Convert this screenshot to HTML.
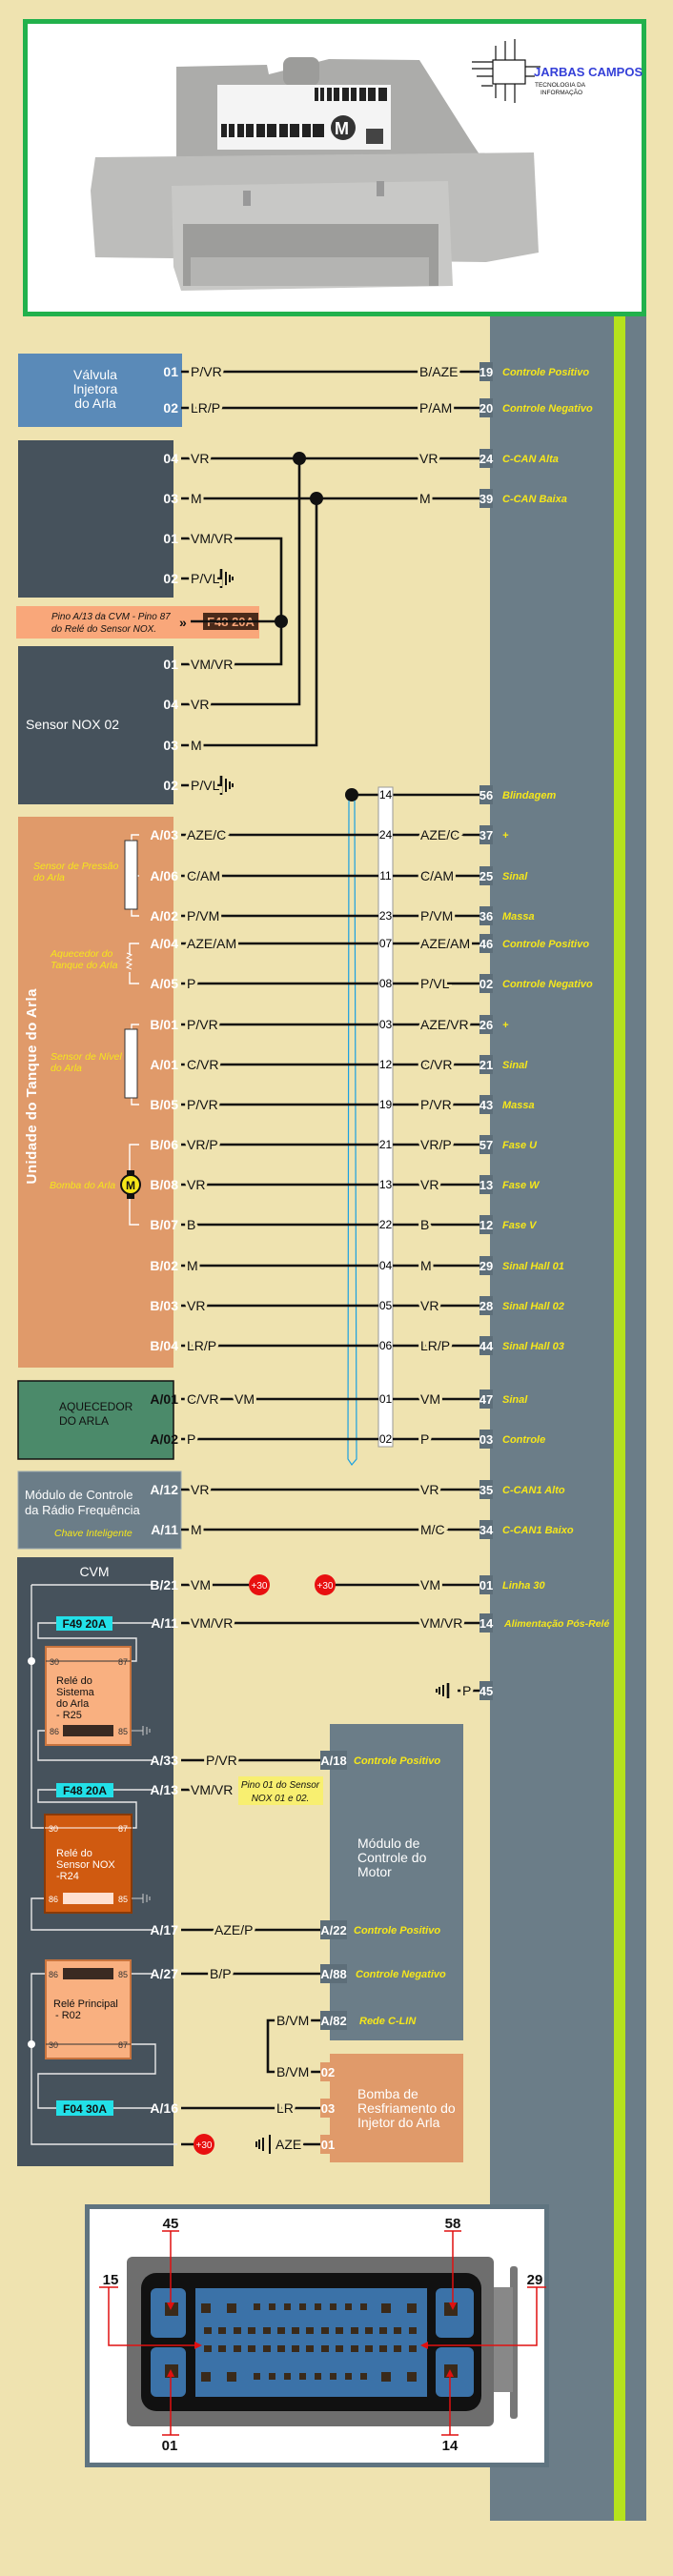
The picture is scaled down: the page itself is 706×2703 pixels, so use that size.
<!DOCTYPE html>
<html><head><meta charset="utf-8">
<style>
html,body{margin:0;padding:0;background:#efe3b0;}
svg{display:block;}
text{font-family:"Liberation Sans Narrow","Liberation Sans",sans-serif;}
.w{fill:#fff;font-size:14px;font-weight:bold;}
.pl{fill:#fff;font-size:14px;font-weight:bold;text-anchor:end;}
.k{fill:#111;font-size:14px;stroke:#efe3b0;stroke-width:6px;paint-order:stroke;}
.y{fill:#f6e71a;font-size:11px;font-style:italic;font-weight:bold;}
.yl{fill:#f6e71a;font-size:10.5px;font-style:italic;}
.n{fill:#fff;font-size:13px;font-weight:bold;text-anchor:middle;}
.c{fill:#000;font-size:12px;text-anchor:middle;}
.wire{stroke:#111;stroke-width:2.6;fill:none;}
.thin{stroke:#e8e8e8;stroke-width:1.4;fill:none;}
.rl{fill:#111;font-size:12px;}
</style></head><body>
<svg width="706" height="2703" viewBox="0 0 706 2703" xmlns="http://www.w3.org/2000/svg">
<rect width="706" height="2703" fill="#efe3b0"/>
<!-- right panel -->
<rect x="514" y="332" width="164" height="2313" fill="#6b7d88"/>
<rect x="644" y="332" width="12" height="2313" fill="#b6e21c"/>

<!-- TOP PHOTO FRAME -->
<rect x="26.5" y="22.5" width="649" height="307" fill="#fff" stroke="#22b14c" stroke-width="5"/>
<g>
<polygon points="185,70 280,68 282,78 345,62 440,63 495,150 505,165 185,165" fill="#acacaa"/>
<rect x="297" y="60" width="38" height="30" rx="8" fill="#9c9c9a"/>
<polygon points="100,165 560,160 565,265 510,275 100,270 95,200" fill="#bdbdbb"/>
<rect x="228" y="89" width="182" height="68" fill="#f4f4f4"/>
<g fill="#222">
<rect x="330" y="92" width="76" height="14"/>
<rect x="232" y="130" width="108" height="14"/>
</g>
<g fill="#f4f4f4"><rect x="334" y="92" width="2" height="14"/><rect x="340" y="92" width="3" height="14"/><rect x="348" y="92" width="2" height="14"/><rect x="356" y="92" width="3" height="14"/><rect x="366" y="92" width="2" height="14"/><rect x="374" y="92" width="3" height="14"/><rect x="384" y="92" width="2" height="14"/><rect x="394" y="92" width="3" height="14"/>
<rect x="238" y="130" width="2" height="14"/><rect x="246" y="130" width="3" height="14"/><rect x="256" y="130" width="2" height="14"/><rect x="266" y="130" width="3" height="14"/><rect x="278" y="130" width="2" height="14"/><rect x="290" y="130" width="3" height="14"/><rect x="302" y="130" width="2" height="14"/><rect x="314" y="130" width="3" height="14"/><rect x="326" y="130" width="2" height="14"/></g>
<circle cx="360" cy="134" r="13" fill="#333"/><text x="351" y="141" style="font-size:18px;font-weight:bold;fill:#fff">M</text>
<rect x="384" y="135" width="18" height="16" fill="#444"/>
<polygon points="180,195 470,190 475,300 190,305 182,280" fill="#c8c8c6"/>
<rect x="192" y="235" width="268" height="65" fill="#9d9d9b"/>
<rect x="200" y="270" width="250" height="30" fill="#b4b4b2"/>
<rect x="255" y="200" width="8" height="16" fill="#999"/><rect x="395" y="190" width="8" height="16" fill="#999"/>
</g>
<!-- logo -->
<g stroke="#111" stroke-width="1.2" fill="none">
<rect x="517" y="63" width="34" height="25"/>
<path d="M495 65h22M495 72h22M500 80h17M520 63v-15M530 63v-20M540 63v-22M551 70h16M551 80h10M520 88v15M530 88v18M540 88v20M505 90h12"/>
</g>
<text x="560" y="80" style="font-size:13px;fill:#3540d8;font-weight:bold">JARBAS CAMPOS</text>
<text x="561" y="91" style="font-size:6.5px;fill:#111">TECNOLOGIA DA</text>
<text x="567" y="99" style="font-size:6.5px;fill:#111">INFORMAÇÃO</text>

<!-- VALVE -->
<rect x="19" y="371" width="172" height="77" fill="#5a8ab8"/>
<text x="100" y="398" class="w" text-anchor="middle" style="font-weight:normal">Válvula</text>
<text x="100" y="413" class="w" text-anchor="middle" style="font-weight:normal">Injetora</text>
<text x="100" y="428" class="w" text-anchor="middle" style="font-weight:normal">do Arla</text>
<!-- NOX boxes -->
<rect x="19" y="462" width="163" height="165" fill="#46525c"/>
<rect x="17" y="636" width="255" height="34" fill="#f9a77a"/>
<text x="54" y="650" class="rl" style="font-style:italic;font-size:10px">Pino A/13 da CVM - Pino 87</text>
<text x="54" y="663" class="rl" style="font-style:italic;font-size:10px">do Relé do Sensor NOX.</text>
<text x="188" y="658" style="font-size:14px;font-weight:bold;fill:#111">»</text>
<rect x="213" y="643" width="58" height="18" fill="#4a2a1a"/>
<text x="242" y="657" style="font-size:13px;fill:#f9a77a;text-anchor:middle;font-weight:bold">F48 20A</text>
<rect x="19" y="678" width="163" height="166" fill="#46525c"/>
<text x="27" y="765" class="w" style="font-weight:normal;font-size:14px">Sensor NOX 02</text>

<!-- wires section 1 -->
<g class="wire">
<path d="M190 390H503M190 428H503"/>
<path d="M190 481H503M190 523H503"/>
<path d="M190 565H295V697H190M200 652H295"/>
<path d="M314 481V739H190M332 523V782H190"/>
<path d="M190 607H232M232 597v20M190 824H232M232 814v20"/>
<path d="M370 834H503"/>
</g>
<g stroke="#111" stroke-width="2"><path d="M237 600v14M241 603v8M244 605v4M237 817v14M241 820v8M244 822v4"/></g>
<circle cx="314" cy="481" r="7" fill="#111"/><circle cx="332" cy="523" r="7" fill="#111"/><circle cx="295" cy="652" r="7" fill="#111"/>
<circle cx="369" cy="834" r="7" fill="#111"/>
<g>
<text x="187" y="395" class="pl">01</text><text x="187" y="433" class="pl">02</text>
<text x="187" y="486" class="pl">04</text><text x="187" y="528" class="pl">03</text><text x="187" y="570" class="pl">01</text><text x="187" y="612" class="pl">02</text>
<text x="187" y="702" class="pl">01</text><text x="187" y="744" class="pl">04</text><text x="187" y="787" class="pl">03</text><text x="187" y="829" class="pl">02</text>
</g>
<g>
<text x="200" y="395" class="k">P/VR</text><text x="440" y="395" class="k">B/AZE</text>
<text x="200" y="433" class="k">LR/P</text><text x="440" y="433" class="k">P/AM</text>
<text x="200" y="486" class="k">VR</text><text x="440" y="486" class="k">VR</text>
<text x="200" y="528" class="k">M</text><text x="440" y="528" class="k">M</text>
<text x="200" y="570" class="k">VM/VR</text><text x="200" y="612" class="k">P/VL</text>
<text x="200" y="702" class="k">VM/VR</text><text x="200" y="744" class="k">VR</text>
<text x="200" y="787" class="k">M</text><text x="200" y="829" class="k">P/VL</text>
</g>

<!-- ORANGE tank unit -->
<rect x="19" y="857" width="163" height="578" fill="#e09a6a"/>
<text transform="translate(38,1140) rotate(-90)" text-anchor="middle" style="fill:#fff;font-size:15px;font-weight:bold;font-family:'Liberation Sans',sans-serif" textLength="205">Unidade do Tanque do Arla</text>
<g class="thin" style="stroke:#fff">
<path d="M146 876h-8v6M146 961h-8v-7M146 1075h-8v5M146 1159h-8v-7M146 990h-10v12M146 1032h-10v-12M146 1201h-10v30M146 1285h-10v-30M146 919h-4"/>
</g>
<rect x="131" y="882" width="13" height="72" fill="#fff" stroke="#333"/>
<rect x="131" y="1080" width="13" height="72" fill="#fff" stroke="#333"/>
<path d="M133 1000l5 2-5 3 5 2-5 3 5 2-5 3 5 2" stroke="#fff" fill="none"/>
<rect x="133" y="1228" width="8" height="30" fill="#111"/>
<circle cx="137" cy="1243" r="10" fill="#f5e619" stroke="#111" stroke-width="2"/>
<text x="137" y="1248" text-anchor="middle" style="font-size:12px;font-weight:bold;fill:#111">M</text>
<text x="35" y="912" class="yl">Sensor de Pressão</text><text x="35" y="924" class="yl">do Arla</text>
<text x="53" y="1004" class="yl">Aquecedor do</text><text x="53" y="1016" class="yl">Tanque do Arla</text>
<text x="53" y="1112" class="yl">Sensor de Nível</text><text x="53" y="1124" class="yl">do Arla</text>
<text x="52" y="1247" class="yl">Bomba do Arla</text>

<!-- connector column -->
<rect x="397" y="826" width="15" height="692" fill="#fff" stroke="#999"/>
<path d="M366 840L365 1531L369 1537L374 1531L372 840" stroke="#1aa0e0" stroke-width="1.2" fill="none"/>
<g class="wire">
<path d="M190 876H397M412 876H503M190 919H397M412 919H503M190 961H397M412 961H503M190 990H397M412 990H503M190 1032H397M412 1032H503M190 1075H397M412 1075H503M190 1117H397M412 1117H503M190 1159H397M412 1159H503M190 1201H397M412 1201H503M190 1243H397M412 1243H503M190 1285H397M412 1285H503M190 1328H397M412 1328H503M190 1370H397M412 1370H503M190 1412H397M412 1412H503"/>
<path d="M190 1468H397M412 1468H503M190 1510H397M412 1510H503"/>
</g>
<g>
<text x="404.5" y="838" class="c">14</text>
<text x="404.5" y="880" class="c">24</text><text x="404.5" y="923" class="c">11</text><text x="404.5" y="965" class="c">23</text><text x="404.5" y="994" class="c">07</text><text x="404.5" y="1036" class="c">08</text><text x="404.5" y="1079" class="c">03</text><text x="404.5" y="1121" class="c">12</text><text x="404.5" y="1163" class="c">19</text><text x="404.5" y="1205" class="c">21</text><text x="404.5" y="1247" class="c">13</text><text x="404.5" y="1289" class="c">22</text><text x="404.5" y="1332" class="c">04</text><text x="404.5" y="1374" class="c">05</text><text x="404.5" y="1416" class="c">06</text>
<text x="404.5" y="1472" class="c">01</text><text x="404.5" y="1514" class="c">02</text>
</g>
<g>
<text x="187" y="881" class="pl">A/03</text><text x="187" y="924" class="pl">A/06</text><text x="187" y="966" class="pl">A/02</text><text x="187" y="995" class="pl">A/04</text><text x="187" y="1037" class="pl">A/05</text><text x="187" y="1080" class="pl">B/01</text><text x="187" y="1122" class="pl">A/01</text><text x="187" y="1164" class="pl">B/05</text><text x="187" y="1206" class="pl">B/06</text><text x="187" y="1248" class="pl">B/08</text><text x="187" y="1290" class="pl">B/07</text><text x="187" y="1333" class="pl">B/02</text><text x="187" y="1375" class="pl">B/03</text><text x="187" y="1417" class="pl">B/04</text>
</g>
<g>
<text x="196" y="881" class="k">AZE/C</text><text x="441" y="881" class="k">AZE/C</text>
<text x="196" y="924" class="k">C/AM</text><text x="441" y="924" class="k">C/AM</text>
<text x="196" y="966" class="k">P/VM</text><text x="441" y="966" class="k">P/VM</text>
<text x="196" y="995" class="k">AZE/AM</text><text x="441" y="995" class="k">AZE/AM</text>
<text x="196" y="1037" class="k">P</text><text x="441" y="1037" class="k">P/VL</text>
<text x="196" y="1080" class="k">P/VR</text><text x="441" y="1080" class="k">AZE/VR</text>
<text x="196" y="1122" class="k">C/VR</text><text x="441" y="1122" class="k">C/VR</text>
<text x="196" y="1164" class="k">P/VR</text><text x="441" y="1164" class="k">P/VR</text>
<text x="196" y="1206" class="k">VR/P</text><text x="441" y="1206" class="k">VR/P</text>
<text x="196" y="1248" class="k">VR</text><text x="441" y="1248" class="k">VR</text>
<text x="196" y="1290" class="k">B</text><text x="441" y="1290" class="k">B</text>
<text x="196" y="1333" class="k">M</text><text x="441" y="1333" class="k">M</text>
<text x="196" y="1375" class="k">VR</text><text x="441" y="1375" class="k">VR</text>
<text x="196" y="1417" class="k">LR/P</text><text x="441" y="1417" class="k">LR/P</text>
<text x="196" y="1473" class="k">C/VR</text><text x="246" y="1473" class="k">VM</text><text x="441" y="1473" class="k">VM</text>
<text x="196" y="1515" class="k">P</text><text x="441" y="1515" class="k">P</text>
</g>

<!-- green heater -->
<rect x="19" y="1449" width="163" height="82" fill="#4b8a6a" stroke="#111" stroke-width="1.5"/>
<text x="62" y="1480" style="fill:#111;font-size:12px">AQUECEDOR</text>
<text x="62" y="1495" style="fill:#111;font-size:12px">DO ARLA</text>
<text x="187" y="1473" class="pl" style="fill:#111">A/01</text><text x="187" y="1515" class="pl" style="fill:#111">A/02</text>

<!-- Radio module -->
<rect x="19" y="1544" width="171" height="81" fill="#6b7d88" stroke="#9aa8b0"/>
<text x="26" y="1573" class="w" style="font-weight:normal;font-size:13px">Módulo de Controle</text>
<text x="26" y="1589" class="w" style="font-weight:normal;font-size:13px">da Rádio Frequência</text>
<text x="57" y="1612" class="yl">Chave Inteligente</text>
<g class="wire"><path d="M190 1563H503M190 1605H503"/></g>
<text x="187" y="1568" class="pl">A/12</text><text x="187" y="1610" class="pl">A/11</text>
<text x="200" y="1568" class="k">VR</text><text x="441" y="1568" class="k">VR</text>
<text x="200" y="1610" class="k">M</text><text x="441" y="1610" class="k">M/C</text>

<!-- CVM -->
<rect x="18" y="1634" width="164" height="639" fill="#46525c"/>
<text x="99" y="1654" class="n" style="font-weight:normal;font-size:14px">CVM</text>
<g class="thin">
<path d="M33 1663H160M33 1663V1918H48"/>
<path d="M118 1703H160M59 1703H40V1719H143V1743H137"/>
<path d="M48 1816H40V1847H160"/>
<path d="M119 1878H160M59 1878H40V1891H143V1918H138"/>
<path d="M47 1992H33V2025H160"/>
<path d="M137 2071H160M48 2071H33V2250H186"/>
<path d="M137 2145H163V2176H40V2212H59M119 2212H160"/>
</g>
<circle cx="33" cy="1743" r="4" fill="#fff"/><circle cx="33" cy="2145" r="4" fill="#fff"/>
<!-- relays -->
<rect x="48" y="1728" width="89" height="103" fill="#f9b080" stroke="#c9743e" stroke-width="2"/>
<path d="M48 1743H137" stroke="#333" stroke-width="1"/>
<rect x="66" y="1810" width="53" height="12" fill="#3a2a22"/>
<text x="52" y="1747" style="font-size:9px;fill:#333">30</text><text x="124" y="1747" style="font-size:9px;fill:#333">87</text>
<text x="52" y="1820" style="font-size:9px;fill:#333">86</text><text x="124" y="1820" style="font-size:9px;fill:#333">85</text>
<text x="59" y="1767" class="rl" style="font-size:11px">Relé do</text><text x="59" y="1779" class="rl" style="font-size:11px">Sistema</text><text x="59" y="1791" class="rl" style="font-size:11px">do Arla</text><text x="59" y="1803" class="rl" style="font-size:11px">- R25</text>
<path d="M138 1816h12M150 1811v10M154 1812v8M157 1814v4" stroke="#ccc" fill="none"/>
<rect x="47" y="1904" width="91" height="103" fill="#d05a10" stroke="#8a3a08" stroke-width="2"/>
<path d="M47 1918H138" stroke="#fff" stroke-width="1"/>
<rect x="66" y="1986" width="53" height="12" fill="#ffe0d0"/>
<text x="51" y="1922" style="font-size:9px;fill:#fff">30</text><text x="124" y="1922" style="font-size:9px;fill:#fff">87</text>
<text x="51" y="1996" style="font-size:9px;fill:#fff">86</text><text x="124" y="1996" style="font-size:9px;fill:#fff">85</text>
<text x="59" y="1948" style="font-size:11px;fill:#fff">Relé do</text><text x="59" y="1960" style="font-size:11px;fill:#fff">Sensor NOX</text><text x="59" y="1972" style="font-size:11px;fill:#fff">-R24</text>
<path d="M138 1992h12M150 1987v10M154 1988v8M157 1990v4" stroke="#ccc" fill="none"/>
<rect x="48" y="2057" width="89" height="103" fill="#f9b080" stroke="#c9743e" stroke-width="2"/>
<rect x="66" y="2065" width="53" height="12" fill="#3a2a22"/>
<path d="M48 2145H137" stroke="#333"/>
<text x="51" y="2075" style="font-size:9px;fill:#333">86</text><text x="124" y="2075" style="font-size:9px;fill:#333">85</text>
<text x="51" y="2149" style="font-size:9px;fill:#333">30</text><text x="124" y="2149" style="font-size:9px;fill:#333">87</text>
<text x="56" y="2106" class="rl" style="font-size:11px">Relé Principal</text><text x="58" y="2118" class="rl" style="font-size:11px">- R02</text>
<!-- fuses -->
<rect x="59" y="1696" width="59" height="15" fill="#22e0e8"/><text x="88.5" y="1708" style="font-size:12px;font-weight:bold;text-anchor:middle;fill:#111">F49 20A</text>
<rect x="59" y="1871" width="60" height="15" fill="#22e0e8"/><text x="89" y="1883" style="font-size:12px;font-weight:bold;text-anchor:middle;fill:#111">F48 20A</text>
<rect x="59" y="2204" width="60" height="16" fill="#22e0e8"/><text x="89" y="2217" style="font-size:12px;font-weight:bold;text-anchor:middle;fill:#111">F04 30A</text>

<g>
<text x="187" y="1668" class="pl">B/21</text><text x="187" y="1708" class="pl">A/11</text><text x="187" y="1852" class="pl">A/33</text><text x="187" y="1883" class="pl">A/13</text><text x="187" y="2030" class="pl">A/17</text><text x="187" y="2076" class="pl">A/27</text><text x="187" y="2217" class="pl">A/16</text>
</g>
<g class="wire">
<path d="M190 1663H262M351 1663H503M190 1703H503"/>
<path d="M190 1847H336M190 1878H240"/>
<path d="M190 2025H336M190 2071H336"/>
<path d="M336 2120H281V2174H336M190 2212H336M290 2250H336M190 2250H204"/>
<path d="M480 1774H503M470 1766v16"/>
</g>
<g stroke="#111" stroke-width="2"><path d="M465 1768v12M461 1770v8M458 1772v4M276 2243v14M272 2245v10M269 2247v6"/></g>
<path d="M283 2240v20" stroke="#111" stroke-width="2"/>
<circle cx="272" cy="1663" r="11" fill="#e81010"/><text x="272" y="1667" style="font-size:10px;fill:#fff;text-anchor:middle">+30</text>
<circle cx="341" cy="1663" r="11" fill="#e81010"/><text x="341" y="1667" style="font-size:10px;fill:#fff;text-anchor:middle">+30</text>
<circle cx="214" cy="2250" r="11" fill="#e81010"/><text x="214" y="2254" style="font-size:10px;fill:#fff;text-anchor:middle">+30</text>
<text x="200" y="1668" class="k">VM</text><text x="441" y="1668" class="k">VM</text>
<text x="200" y="1708" class="k">VM/VR</text><text x="441" y="1708" class="k">VM/VR</text>
<text x="485" y="1779" class="k">P</text>
<text x="216" y="1852" class="k">P/VR</text>
<text x="200" y="1883" class="k">VM/VR</text>
<text x="225" y="2030" class="k">AZE/P</text>
<text x="220" y="2076" class="k">B/P</text>
<text x="290" y="2125" class="k">B/VM</text><text x="290" y="2179" class="k">B/VM</text>
<text x="290" y="2217" class="k">LR</text><text x="289" y="2255" class="k">AZE</text>
<rect x="250" y="1864" width="89" height="30" fill="#f8ef70"/>
<text x="294" y="1876" class="rl" style="font-style:italic;font-size:10px;text-anchor:middle">Pino 01 do Sensor</text>
<text x="294" y="1890" class="rl" style="font-style:italic;font-size:10px;text-anchor:middle">NOX 01 e 02.</text>

<!-- Engine module -->
<rect x="346" y="1809" width="140" height="332" fill="#6b7d88"/>
<text x="375" y="1939" class="w" style="font-weight:normal">Módulo de</text>
<text x="375" y="1954" class="w" style="font-weight:normal">Controle do</text>
<text x="375" y="1969" class="w" style="font-weight:normal">Motor</text>
<rect x="336" y="1837" width="28" height="20" fill="#5d6e79"/><text x="350" y="1852" class="n">A/18</text><text x="371" y="1851" class="y">Controle Positivo</text>
<rect x="336" y="2015" width="28" height="20" fill="#5d6e79"/><text x="350" y="2030" class="n">A/22</text><text x="371" y="2029" class="y">Controle Positivo</text>
<rect x="336" y="2061" width="28" height="20" fill="#5d6e79"/><text x="350" y="2076" class="n">A/88</text><text x="373" y="2075" class="y">Controle Negativo</text>
<rect x="336" y="2110" width="28" height="20" fill="#5d6e79"/><text x="350" y="2125" class="n">A/82</text><text x="377" y="2124" class="y">Rede C-LIN</text>
<!-- Pump -->
<rect x="346" y="2155" width="140" height="114" fill="#e09a6a"/>
<text x="375" y="2202" class="w" style="font-weight:normal">Bomba de</text>
<text x="375" y="2217" class="w" style="font-weight:normal">Resfriamento do</text>
<text x="375" y="2232" class="w" style="font-weight:normal">Injetor do Arla</text>
<rect x="336" y="2164" width="14" height="20" fill="#e09a6a"/><text x="344" y="2179" class="n">02</text>
<rect x="336" y="2202" width="14" height="20" fill="#e09a6a"/><text x="344" y="2217" class="n">03</text>
<rect x="336" y="2240" width="14" height="20" fill="#e09a6a"/><text x="344" y="2255" class="n">01</text>

<!-- Right pin boxes -->
<g fill="#5d6e79">
<rect x="503" y="380" width="14" height="20"/><rect x="503" y="418" width="14" height="20"/><rect x="503" y="471" width="14" height="20"/><rect x="503" y="513" width="14" height="20"/><rect x="503" y="824" width="14" height="20"/>
<rect x="503" y="866" width="14" height="20"/><rect x="503" y="909" width="14" height="20"/><rect x="503" y="951" width="14" height="20"/><rect x="503" y="980" width="14" height="20"/><rect x="503" y="1022" width="14" height="20"/><rect x="503" y="1065" width="14" height="20"/><rect x="503" y="1107" width="14" height="20"/><rect x="503" y="1149" width="14" height="20"/><rect x="503" y="1191" width="14" height="20"/><rect x="503" y="1233" width="14" height="20"/><rect x="503" y="1275" width="14" height="20"/><rect x="503" y="1318" width="14" height="20"/><rect x="503" y="1360" width="14" height="20"/><rect x="503" y="1402" width="14" height="20"/>
<rect x="503" y="1458" width="14" height="20"/><rect x="503" y="1500" width="14" height="20"/><rect x="503" y="1553" width="14" height="20"/><rect x="503" y="1595" width="14" height="20"/><rect x="503" y="1653" width="14" height="20"/><rect x="503" y="1693" width="14" height="20"/><rect x="503" y="1764" width="14" height="20"/>
</g>
<g>
<text x="510" y="395" class="n">19</text><text x="510" y="433" class="n">20</text><text x="510" y="486" class="n">24</text><text x="510" y="528" class="n">39</text><text x="510" y="839" class="n">56</text>
<text x="510" y="881" class="n">37</text><text x="510" y="924" class="n">25</text><text x="510" y="966" class="n">36</text><text x="510" y="995" class="n">46</text><text x="510" y="1037" class="n">02</text><text x="510" y="1080" class="n">26</text><text x="510" y="1122" class="n">21</text><text x="510" y="1164" class="n">43</text><text x="510" y="1206" class="n">57</text><text x="510" y="1248" class="n">13</text><text x="510" y="1290" class="n">12</text><text x="510" y="1333" class="n">29</text><text x="510" y="1375" class="n">28</text><text x="510" y="1417" class="n">44</text>
<text x="510" y="1473" class="n">47</text><text x="510" y="1515" class="n">03</text><text x="510" y="1568" class="n">35</text><text x="510" y="1610" class="n">34</text><text x="510" y="1668" class="n">01</text><text x="510" y="1708" class="n">14</text><text x="510" y="1779" class="n">45</text>
</g>
<g>
<text x="527" y="394" class="y">Controle Positivo</text><text x="527" y="432" class="y">Controle Negativo</text><text x="527" y="485" class="y">C-CAN Alta</text><text x="527" y="527" class="y">C-CAN Baixa</text><text x="527" y="838" class="y">Blindagem</text>
<text x="527" y="880" class="y">+</text><text x="527" y="923" class="y">Sinal</text><text x="527" y="965" class="y">Massa</text><text x="527" y="994" class="y">Controle Positivo</text><text x="527" y="1036" class="y">Controle Negativo</text><text x="527" y="1079" class="y">+</text><text x="527" y="1121" class="y">Sinal</text><text x="527" y="1163" class="y">Massa</text><text x="527" y="1205" class="y">Fase U</text><text x="527" y="1247" class="y">Fase W</text><text x="527" y="1289" class="y">Fase V</text><text x="527" y="1332" class="y">Sinal Hall 01</text><text x="527" y="1374" class="y">Sinal Hall 02</text><text x="527" y="1416" class="y">Sinal Hall 03</text>
<text x="527" y="1472" class="y">Sinal</text><text x="527" y="1514" class="y">Controle</text><text x="527" y="1567" class="y">C-CAN1 Alto</text><text x="527" y="1609" class="y">C-CAN1 Baixo</text><text x="527" y="1667" class="y">Linha 30</text><text x="529" y="1707" class="y" style="font-size:10.5px">Alimentação Pós-Relé</text>
</g>

<!-- CONNECTOR PICTURE -->
<rect x="89" y="2313" width="487" height="276" fill="#5f7480"/>
<rect x="94" y="2318" width="477" height="266" fill="#fff"/>
<rect x="133" y="2368" width="385" height="178" rx="6" fill="#6e6e6e"/>
<rect x="535" y="2378" width="8" height="160" rx="3" fill="#777"/>
<rect x="518" y="2400" width="20" height="110" fill="#888"/>
<rect x="148" y="2385" width="357" height="145" rx="16" fill="#111"/>
<rect x="158" y="2401" width="37" height="52" rx="6" fill="#3b72a8"/>
<rect x="158" y="2463" width="37" height="52" rx="6" fill="#3b72a8"/>
<rect x="205" y="2401" width="243" height="114" fill="#3b72a8"/>
<rect x="457" y="2401" width="40" height="52" rx="6" fill="#3b72a8"/>
<rect x="457" y="2463" width="40" height="52" rx="6" fill="#3b72a8"/>
<g fill="#3a2a1a">
<rect x="173" y="2416" width="14" height="14"/><rect x="173" y="2481" width="14" height="14"/><rect x="466" y="2416" width="14" height="14"/><rect x="466" y="2481" width="14" height="14"/>
<rect x="211" y="2417" width="10" height="10"/><rect x="238" y="2417" width="10" height="10"/><rect x="400" y="2417" width="10" height="10"/><rect x="427" y="2417" width="10" height="10"/>
<rect x="211" y="2489" width="10" height="10"/><rect x="238" y="2489" width="10" height="10"/><rect x="400" y="2489" width="10" height="10"/><rect x="427" y="2489" width="10" height="10"/>
</g>
<g fill="#3a2a1a">
<rect x="266" y="2417" width="7" height="7"/><rect x="282" y="2417" width="7" height="7"/><rect x="298" y="2417" width="7" height="7"/><rect x="314" y="2417" width="7" height="7"/><rect x="330" y="2417" width="7" height="7"/><rect x="346" y="2417" width="7" height="7"/><rect x="362" y="2417" width="7" height="7"/><rect x="378" y="2417" width="7" height="7"/>
<rect x="266" y="2490" width="7" height="7"/><rect x="282" y="2490" width="7" height="7"/><rect x="298" y="2490" width="7" height="7"/><rect x="314" y="2490" width="7" height="7"/><rect x="330" y="2490" width="7" height="7"/><rect x="346" y="2490" width="7" height="7"/><rect x="362" y="2490" width="7" height="7"/><rect x="378" y="2490" width="7" height="7"/>
</g>
<g fill="#3a2a1a">
<rect x="214" y="2442" width="8" height="7"/><rect x="229" y="2442" width="8" height="7"/><rect x="245" y="2442" width="8" height="7"/><rect x="260" y="2442" width="8" height="7"/><rect x="276" y="2442" width="8" height="7"/><rect x="291" y="2442" width="8" height="7"/><rect x="306" y="2442" width="8" height="7"/><rect x="321" y="2442" width="8" height="7"/><rect x="337" y="2442" width="8" height="7"/><rect x="352" y="2442" width="8" height="7"/><rect x="368" y="2442" width="8" height="7"/><rect x="383" y="2442" width="8" height="7"/><rect x="398" y="2442" width="8" height="7"/><rect x="413" y="2442" width="8" height="7"/><rect x="429" y="2442" width="8" height="7"/>
<rect x="214" y="2461" width="8" height="7"/><rect x="229" y="2461" width="8" height="7"/><rect x="245" y="2461" width="8" height="7"/><rect x="260" y="2461" width="8" height="7"/><rect x="276" y="2461" width="8" height="7"/><rect x="291" y="2461" width="8" height="7"/><rect x="306" y="2461" width="8" height="7"/><rect x="321" y="2461" width="8" height="7"/><rect x="337" y="2461" width="8" height="7"/><rect x="352" y="2461" width="8" height="7"/><rect x="368" y="2461" width="8" height="7"/><rect x="383" y="2461" width="8" height="7"/><rect x="398" y="2461" width="8" height="7"/><rect x="413" y="2461" width="8" height="7"/><rect x="429" y="2461" width="8" height="7"/>
</g>
<g stroke="#e01010" stroke-width="1.5" fill="none">
<path d="M170 2341h18M179 2341V2422M466 2341h18M475 2341V2422"/>
<path d="M104 2400h20M114 2400V2461H208M553 2400h20M563 2400V2461H445"/>
<path d="M170 2555h18M179 2555V2488M463 2555h18M472 2555V2488"/>
</g>
<g fill="#e01010">
<path d="M175 2416l4 8 4-8z"/><path d="M471 2416l4 8 4-8z"/><path d="M204 2457l8 4-8 4z"/><path d="M449 2457l-8 4 8 4z"/><path d="M175 2494l4-8 4 8z"/><path d="M468 2494l4-8 4 8z"/>
</g>
<g style="font-size:15px;font-weight:bold;fill:#111;text-anchor:middle">
<text x="179" y="2338">45</text><text x="475" y="2338">58</text><text x="116" y="2397">15</text><text x="561" y="2397">29</text><text x="178" y="2571">01</text><text x="472" y="2571">14</text>
</g>
</svg>
</body></html>
